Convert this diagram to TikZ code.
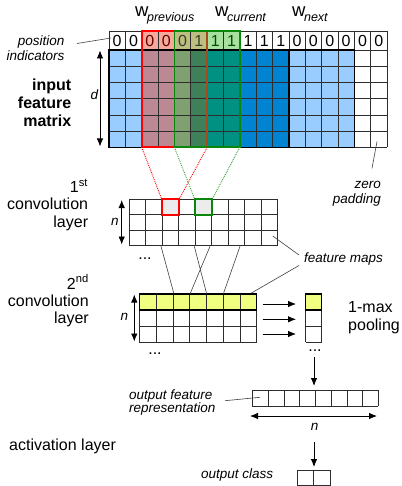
\documentclass[tikz,border=0pt]{standalone}
\usepackage{fontspec}
\setmainfont{Liberation Sans}
\usetikzlibrary{arrows.meta}
\definecolor{lblue}{RGB}{153,204,255}
\definecolor{dblue}{RGB}{0,132,209}
\definecolor{salmon}{RGB}{244,169,154}
\definecolor{olivel}{RGB}{190,190,128}
\definecolor{lgreen}{RGB}{168,224,160}
\definecolor{mauve}{RGB}{187,136,148}
\definecolor{olive}{RGB}{127,160,112}
\definecolor{dgreen}{RGB}{63,127,90}
\definecolor{teal}{RGB}{0,145,130}
\definecolor{bgreen}{RGB}{10,135,10}
\definecolor{brownline}{RGB}{165,75,30}
\definecolor{yel}{RGB}{240,255,128}
\definecolor{cellgray}{RGB}{236,236,236}
\definecolor{gridc}{RGB}{45,45,45}
\tikzset{
  bigtxt/.style={font=\fontsize{16}{18}\selectfont, inner sep=0pt},
  boldtxt/.style={font=\fontsize{16}{18}\selectfont\bfseries, inner sep=0pt},
  itxt/.style={font=\fontsize{13.5}{15}\selectfont\itshape, inner sep=0pt},
  digit/.style={font=\fontsize{16}{16}\selectfont, inner sep=0pt, anchor=base},
  wlab/.style={anchor=base west, inner sep=0pt, font=\fontsize{18.5}{18.5}\selectfont},
  gridline/.style={draw=gridc, line width=0.6pt},
  outline/.style={draw=black, line width=1.4pt},
  mytip/.tip={Latex[length=8pt,width=6.5pt]},
  arr/.style={-mytip, line width=0.8pt},
  darr/.style={mytip-mytip, line width=0.8pt},
  ptr/.style={draw=black!75, line width=0.6pt},
  redwin/.style={draw=red, line width=1.6pt},
  greenwin/.style={draw=bgreen, line width=1.6pt},
  reddot/.style={draw=red, densely dotted, line width=0.9pt},
  greendot/.style={draw=bgreen!80!white, densely dotted, line width=0.9pt},
  hicell/.style={fill=cellgray, minimum width=16.49pt, minimum height=15.47pt, inner sep=0pt, line width=1.6pt},
}
\newcommand{\wsub}[1]{\kern-1.5pt\raisebox{-4.8pt}{\fontsize{12.5}{13}\selectfont\itshape #1}}
\begin{document}
\begin{tikzpicture}[x=1pt,y=-1pt]
\useasboundingbox (0,0) rectangle (401,486);
\def\cw{16.353}
% ---------- input feature matrix ----------
\fill[lblue] (109,50) rectangle (141.71,147.3);
\fill[mauve] (141.71,50) rectangle (174.41,147.3);
\fill[olive] (174.41,50) rectangle (190.77,147.3);
\fill[dgreen] (190.77,50) rectangle (207.12,147.3);
\fill[teal] (207.12,50) rectangle (239.82,147.3);
\fill[dblue] (239.82,50) rectangle (288.88,147.3);
\fill[lblue] (288.88,50) rectangle (354.3,147.3);
\fill[salmon] (141.71,31) rectangle (174.41,50);
\fill[olivel] (174.41,31) rectangle (207.12,50);
\fill[lgreen] (207.12,31) rectangle (239.82,50);
\foreach \i in {0,...,17} \draw[gridline] ({109+\i*\cw},31) -- ({109+\i*\cw},147.3);
\foreach \y in {31,50,66.22,82.43,98.65,114.87,131.08,147.3} \draw[gridline] (109,\y) -- (387,\y);
\draw[outline] (109,50) rectangle (354.3,147.3);
\draw[outline] (288.88,50) -- (288.88,147.3);
\foreach \d/\c [count=\i from 0] in {0/black,0/black,0/black!45!red!70!black,0/black!45!red!70!black,0/black!60!olive,1/black!60!olive,1/black!70!green,1/black!70!green,1/black,1/black,1/black,0/black,0/black,0/black,0/black,0/black,0/black}
  \node[digit, text=\c] (ind\i) at ({109+(\i+0.5)*\cw},46.5) {\d};
% windows
\draw[redwin] (141.71,31) rectangle (207.12,147.3);
\draw[brownline, line width=1.6pt] (207.12,31.8) -- (207.12,146.5);
\draw[greenwin] (174.41,31) rectangle (239.82,147.3);
\coordinate (rL) at (141.71,147.3);
\coordinate (rR) at (207.12,147.3);
\coordinate (gL) at (174.41,147.3);
\coordinate (gR) at (239.82,147.3);
% window labels
\node[wlab] (wprev) at (135,16.7) {w\wsub{previous}};
\node[wlab] (wcur) at (215,16.7) {w\wsub{current}};
\node[wlab] (wnext) at (292,16.7) {w\wsub{next}};
% left labels
\node[itxt, anchor=base east] (pos1) at (64.5,46) {position};
\node[itxt, anchor=base east] (pos2) at (64.5,61) {indicators};
\coordinate (posend) at (111,38);
\draw[ptr] (77,43.5) -- (posend);
\node[boldtxt, anchor=base east] (in1) at (71.5,90.5) {input};
\node[boldtxt, anchor=base east] (in2) at (71.5,108.3) {feature};
\node[boldtxt, anchor=base east] (in3) at (71.5,126.1) {matrix};
\coordinate (dtop) at (100,50.5);
\coordinate (dbot) at (100,146.5);
\draw[darr] (dtop) -- (dbot);
\node[itxt, anchor=base] (dlab) at (94.3,99.3) {d};
% zero padding
\node[itxt, anchor=base east] (zp1) at (381,189) {zero};
\node[itxt, anchor=base east] (zp2) at (381,203.5) {padding};
\coordinate (zpa) at (377,141.5);
\draw[ptr] (zpa) -- (372,168.3);
% ---------- 1st convolution layer ----------
\def\cwa{16.49}
\foreach \i in {0,...,9} \draw[gridline] ({129.3+\i*\cwa},199.3) -- ({129.3+\i*\cwa},245.7);
\foreach \y in {199.3,214.77,230.23,245.7} \draw[gridline] (129.3,\y) -- (277.7,\y);
\node[hicell, draw=red] (c1red) at (170.52,207.03) {};
\node[hicell, draw=bgreen] (c1green) at (203.5,207.03) {};
\draw[reddot] (rL) -- (c1red.north west);
\draw[reddot] (rR) -- (c1red.north east);
\draw[greendot] (gL) -- (c1green.north west);
\draw[greendot] (gR) -- (c1green.north east);
\node[bigtxt, anchor=base east] (l1a) at (88.3,192.5) {1\textsuperscript{st}};
\node[bigtxt, anchor=base east] (l1b) at (88.3,209.8) {convolution};
\node[bigtxt, anchor=base east] (l1c) at (88.3,227.1) {layer};
\draw[darr] (121.7,200) -- (121.7,244.5);
\node[itxt, anchor=base] (n1) at (115,225) {n};
\node[bigtxt, anchor=base] (dots1) at (145,259.5) {...};
% feature maps
\node[itxt, anchor=base west] (fm) at (304,262.7) {feature maps};
\draw[ptr] (272.7,236) -- (299,255);
\draw[ptr] (299,265.5) -- (248,295);
% ---------- 2nd convolution layer ----------
\def\cwb{16.771}
\fill[yel] (139.3,294) rectangle (256.7,310);
\foreach \i in {0,...,7} \draw[gridline] ({139.3+\i*\cwb},294) -- ({139.3+\i*\cwb},342);
\foreach \y in {294,310,326,342} \draw[gridline] (139.3,\y) -- (256.7,\y);
\draw[outline] (139.3,294) rectangle (256.7,310);
% connections 1st -> 2nd
\coordinate (a1) at (161,246.3); \coordinate (b1) at (174,294);
\coordinate (a2) at (194.3,246.3); \coordinate (b2) at (206.7,294);
\coordinate (a3) at (210,246.3); \coordinate (b3) at (190,294);
\coordinate (a4) at (240,246.3); \coordinate (b4) at (223.3,294);
\draw[ptr] (a1) -- (b1) (a2) -- (b2) (a3) -- (b3) (a4) -- (b4);
\node[bigtxt, anchor=base east] (l2a) at (89,289) {2\textsuperscript{nd}};
\node[bigtxt, anchor=base east] (l2b) at (89,306.3) {convolution};
\node[bigtxt, anchor=base east] (l2c) at (89,323.6) {layer};
\draw[darr] (134.3,294.5) -- (134.3,341.5);
\node[itxt, anchor=base] (n2) at (124.5,320) {n};
\node[bigtxt, anchor=base] (dots2) at (155,354) {...};
% pooling
\fill[yel] (305.7,294) rectangle (321.7,310);
\foreach \y in {294,310,326,342} \draw[gridline] (305.7,\y) -- (321.7,\y);
\draw[gridline] (305.7,294) -- (305.7,342) (321.7,294) -- (321.7,342);
\draw[outline] (305.7,294) rectangle (321.7,310);
\foreach \y in {304,319.3,334} \draw[arr] (262.7,\y) -- (296,\y);
\node[bigtxt, anchor=base west] (mp1) at (348,312.7) {1-max};
\node[bigtxt, anchor=base west] (mp2) at (348,330) {pooling};
\node[bigtxt, anchor=base] (dots3) at (315,351.7) {...};
\draw[arr] (314,357) -- (314,386);
% ---------- output feature representation ----------
\def\cwc{15.75}
\foreach \i in {0,...,8} \draw[gridline] ({252.3+\i*\cwc},390) -- ({252.3+\i*\cwc},406);
\draw[gridline] (252.3,390) -- (378.3,390) (252.3,406) -- (378.3,406);
\node[itxt, anchor=base west] (ofr1) at (129,399.3) {output feature};
\node[itxt, anchor=base west] (ofr2) at (129,412.3) {representation};
\draw[ptr] (225,400.7) -- (260,397.3);
\draw[darr] (250,416) -- (377,416);
\node[itxt, anchor=base] (n3) at (314.5,430) {n};
\draw[arr] (314,442) -- (314,467);
% ---------- activation / output class ----------
\node[bigtxt, anchor=base west] (act) at (9,450.7) {activation layer};
\draw[gridline] (297.3,470) rectangle (330,485.3);
\draw[gridline] (313.65,470) -- (313.65,485.3);
\node[itxt, anchor=base east] (oc) at (273.3,478.3) {output class};
\end{tikzpicture}
\end{document}
